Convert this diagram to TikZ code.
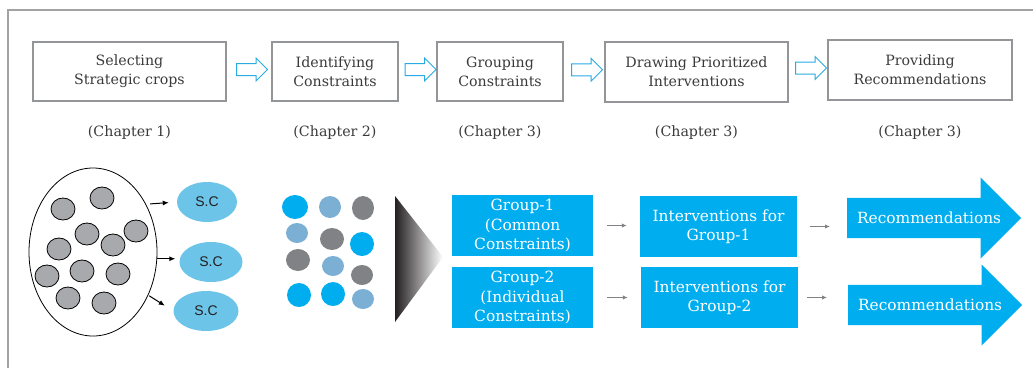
\documentclass[tikz,border=0pt]{standalone}
\usepackage{fontspec}
\setmainfont{DejaVu Serif}
\newfontfamily\labelsans{Liberation Sans}
\usetikzlibrary{shapes.geometric, shapes.arrows, arrows.meta, calc, positioning}

\definecolor{frameGray}{HTML}{A3A3A3}
\definecolor{boxGray}{HTML}{939598}
\definecolor{flowBlue}{HTML}{29ABE2}
\definecolor{cyanDot}{HTML}{00AEEF}
\definecolor{steelDot}{HTML}{7BAFD4}
\definecolor{grayDot}{HTML}{808285}
\definecolor{cropGray}{HTML}{A7A9AC}
\definecolor{scBlue}{HTML}{6CC4E8}
\definecolor{inkDark}{HTML}{231F20}
\definecolor{textGray}{HTML}{3A3A3A}

\begin{document}
\begin{tikzpicture}[x=1pt, y=-1pt,
    stage/.style={draw=boxGray, line width=1.8pt, minimum height=59pt, align=center,
        inner sep=0pt, text=textGray, font=\fontsize{14.2}{19}\selectfont},
    chapter/.style={text=textGray, font=\fontsize{14.2}{16}\selectfont},
    flow/.style={single arrow, draw=flowBlue, fill=white, line width=1pt,
        inner xsep=0pt, inner ysep=5.5pt, minimum height=31pt, single arrow head extend=5.5pt},
    sc/.style={ellipse, fill=scBlue, minimum height=40pt, inner sep=0pt,
        text=inkDark, font=\labelsans\fontsize{14}{16}\selectfont},
    groupbox/.style={fill=cyanDot, text=white, align=center, inner sep=0pt,
        minimum height=61pt, font=\fontsize{15.4}{19.5}\selectfont},
    recarrow/.style={single arrow, fill=cyanDot, inner xsep=0pt, inner ysep=13.5pt,
        text height=10pt, text depth=3pt, minimum height=174pt, single arrow head extend=20.5pt,
        label={[text=white, xshift=5pt, font=\fontsize{15.4}{17}\selectfont]center:#1}},
    pointer/.style={-{Latex[length=6pt, width=5pt]}, line width=1pt},
    thin pointer/.style={-{Latex[length=5pt, width=4.5pt]}, grayDot, line width=1.4pt}
]
    \useasboundingbox (0,0) rectangle (1033,368);

    % Frame
    \draw[frameGray, line width=1.3pt] (8,368) -- (8,10) -- (1033,10);

    % Steps of the study
    \node[stage, minimum width=193pt] (b1) at (129.5,71.5) {Selecting\\Strategic crops};
    \node[stage, minimum width=126pt] (b2) at (335,71.5) {Identifying\\Constraints};
    \node[stage, minimum width=126pt] (b3) at (500,71.5) {Grouping\\Constraints};
    \node[stage, minimum width=183pt, minimum height=60pt] (b4) at (696.5,72) {Drawing Prioritized\\Interventions};
    \node[stage, minimum width=184pt, minimum height=60pt] (b5) at (920,70) {Providing\\Recommendations};

    \node[flow] (f1) at ($(b1.east)!0.5!(b2.west)+(0,-2)$) {};
    \node[flow] (f2) at ($(b2.east)!0.5!(b3.west)+(0,-2)$) {};
    \node[flow] (f3) at ($(b3.east)!0.5!(b4.west)+(0,-2)$) {};
    \node[flow] (f4) at ($(b4.east)!0.5!(b5.west)+(0,-3)$) {};

    % Chapters
    \node[chapter] (c1) at (b1 |- 0,133) {(Chapter 1)};
    \node[chapter] (c2) at (b2 |- 0,133) {(Chapter 2)};
    \node[chapter] (c3) at (b3 |- 0,133) {(Chapter 3)};
    \node[chapter] (c4) at (b4 |- 0,133) {(Chapter 3)};
    \node[chapter] (c5) at (b5 |- 0,133) {(Chapter 3)};

    % Pool of crops
    \node[ellipse, draw, line width=0.8pt, minimum width=128pt, minimum height=168pt] (pool) at (93,252) {};
    \foreach \cx/\cy in {63/209, 102/198, 87/234, 136/231, 59/249, 113/245,
                         47/276, 82/271, 118/274, 68/298, 104/303}
        \filldraw[fill=cropGray, draw=black, line width=0.8pt] (\cx,\cy) ellipse (12pt and 11pt);

    \node[sc, minimum width=60pt] (sc1) at (207,202) {S.C};
    \node[sc, minimum width=63pt] (sc2) at (211,262) {S.C};
    \node[sc, minimum width=65pt] (sc3) at (206,311) {S.C};

    \draw[pointer, shorten <=4pt, shorten >=8pt] (pool.42) -- (sc1.west);
    \draw[pointer, shorten >=4pt] (pool.-6) -- (pool.-6 -| sc2.west);
    \draw[pointer, shorten <=1pt, shorten >=10pt] (pool.-38) -- (sc3.west);

    % Constraints
    \foreach \cx/\cy/\col/\rx/\ry in {295/207/cyanDot/13/12, 330/207/steelDot/11/11, 363/208/grayDot/11/12,
                                      297/233/steelDot/11/10, 332/239/grayDot/12/11, 362/244/cyanDot/12/12,
                                      298/260/grayDot/12/11, 333/266/steelDot/11/10, 362/275/grayDot/11/10,
                                      299/295/cyanDot/12/12, 333/294/cyanDot/12/12, 363/299/steelDot/11/10}
        \fill[\col] (\cx,\cy) ellipse (\rx pt and \ry pt);

    \shade[left color=inkDark, right color=white] (395,196) -- (443,257) -- (395,322) -- cycle;

    % Groups, interventions and recommendations
    \node[groupbox, minimum width=141pt] (g1) at (522.5,225.5) {Group-1\\(Common\\Constraints)};
    \node[groupbox, minimum width=141pt] (g2) at (522.5,297.5) {Group-2\\(Individual\\Constraints)};
    \node[groupbox, minimum width=157pt] (i1) at (718.5,226.5) {Interventions for\\Group-1};
    \node[groupbox, minimum width=157pt] (i2) at (719.5,297.5) {Interventions for\\Group-2};
    \node[recarrow=Recommendations, anchor=tail] (r1) at (847,218) {};
    \node[recarrow=Recommendations, anchor=tail] (r2) at (848,305) {};

    \draw[thin pointer, shorten <=14pt, shorten >=13pt] (g1.east) -- (g1.east -| i1.west);
    \draw[thin pointer, shorten <=14pt, shorten >=13pt] (g2.east) -- (g2.east -| i2.west);
    \draw[thin pointer, shorten <=13pt, shorten >=17pt] (i1.east) -- (i1.east -| r1.tail);
    \draw[thin pointer, shorten <=9pt, shorten >=21pt] (i2.east) -- (i2.east -| r2.tail);

\end{tikzpicture}
\end{document}
